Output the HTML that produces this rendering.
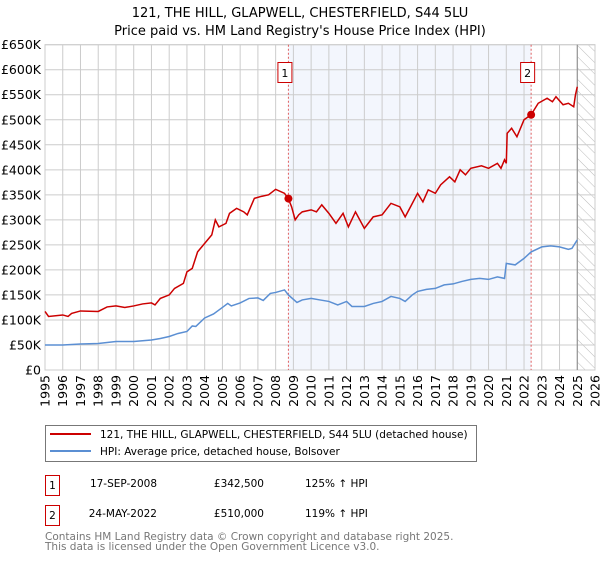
<!DOCTYPE html>
<html><head><meta charset="utf-8"><style>
body{margin:0;background:#fff;width:600px;height:560px;overflow:hidden;font-family:"DejaVu Sans","Liberation Sans",sans-serif}
svg text{font-family:"DejaVu Sans","Liberation Sans",sans-serif}
</style></head><body>
<svg id="c" width="600" height="560" viewBox="0 0 600 560">
<text x="300" y="17" text-anchor="middle" font-size="13" fill="#000">121, THE HILL, GLAPWELL, CHESTERFIELD, S44 5LU</text>
<text x="300" y="35" text-anchor="middle" font-size="13" fill="#000">Price paid vs. HM Land Registry's House Price Index (HPI)</text>
<g id="plot"></g>
<g>
<rect x="45.5" y="425.5" width="431" height="36" fill="#fff" stroke="#777"/>
<line x1="50" y1="434" x2="91" y2="434" stroke="#cc0000" stroke-width="2"/>
<text x="100" y="438" font-size="10.5">121, THE HILL, GLAPWELL, CHESTERFIELD, S44 5LU (detached house)</text>
<line x1="50" y1="451" x2="91" y2="451" stroke="#5b8fd3" stroke-width="2"/>
<text x="100" y="455" font-size="10.5">HPI: Average price, detached house, Bolsover</text>
</g>
<g font-size="10.5">
<rect x="45.5" y="475.5" width="14" height="20" fill="#fff" stroke="#cc0000"/>
<text x="52.5" y="489" text-anchor="middle">1</text>
<text x="157" y="487" text-anchor="end">17-SEP-2008</text>
<text x="264" y="487" text-anchor="end">£342,500</text>
<text x="305" y="487">125% ↑ HPI</text>
<rect x="45.5" y="505.5" width="14" height="20" fill="#fff" stroke="#cc0000"/>
<text x="52.5" y="519" text-anchor="middle">2</text>
<text x="157" y="517" text-anchor="end">24-MAY-2022</text>
<text x="264" y="517" text-anchor="end">£510,000</text>
<text x="305" y="517">119% ↑ HPI</text>
</g>
<text x="45" y="540" font-size="10.5" fill="#777">Contains HM Land Registry data © Crown copyright and database right 2025.</text>
<text x="45" y="550" font-size="10.5" fill="#777">This data is licensed under the Open Government Licence v3.0.</text>
</svg>
<script>
const yTicks=[0,50,100,150,200,250,300,350,400,450,500,550,600,650];
const yTickLabels=["£0","£50K","£100K","£150K","£200K","£250K","£300K","£350K","£400K","£450K","£500K","£550K","£600K","£650K"];
const xYears=[1995,1996,1997,1998,1999,2000,2001,2002,2003,2004,2005,2006,2007,2008,2009,2010,2011,2012,2013,2014,2015,2016,2017,2018,2019,2020,2021,2022,2023,2024,2025,2026];
const hpiYears=[1995,1996,1997,1998,1999,2000,2001,2001.5,2002,2002.5,2003,2003.3,2003.5,2004,2004.5,2005,2005.3,2005.5,2006,2006.5,2007,2007.3,2007.7,2008,2008.5,2008.72,2009.2,2009.5,2010,2010.5,2011,2011.5,2012,2012.3,2013,2013.5,2014,2014.5,2015,2015.3,2015.7,2016,2016.5,2017,2017.5,2018,2018.5,2019,2019.5,2020,2020.5,2020.9,2021,2021.5,2022,2022.4,2023,2023.5,2024,2024.5,2024.7,2025];
const hpiValues=[50,50,52,53,57,57,60,63,67,73,77,88,87,104,112,125,133,128,134,143,144,139,153,155,160,150,135,140,143,140,137,130,137,127,127,133,137,147,143,137,150,157,161,163,170,172,177,181,183,181,186,183,213,210,223,236,246,248,246,241,243,260];
const propYears=[1995,1995.2,1996,1996.3,1996.5,1997,1998,1998.5,1999,1999.5,2000,2000.5,2001,2001.2,2001.5,2002,2002.3,2002.8,2003,2003.3,2003.6,2004,2004.4,2004.6,2004.8,2005.2,2005.4,2005.8,2006.2,2006.4,2006.8,2007.2,2007.6,2008,2008.5,2008.72,2008.9,2009.1,2009.3,2009.5,2010,2010.3,2010.6,2011,2011.4,2011.8,2012.1,2012.5,2013,2013.5,2014,2014.5,2015,2015.3,2015.6,2016,2016.3,2016.6,2017,2017.3,2017.8,2018.1,2018.4,2018.7,2019,2019.6,2020,2020.5,2020.7,2020.9,2021,2021.05,2021.3,2021.6,2022,2022.4,2022.8,2023.3,2023.6,2023.8,2024.2,2024.5,2024.8,2024.9,2025];
const propValues=[117,107,110,107,113,118,117,126,128,125,128,132,134,130,143,150,163,173,196,203,236,253,270,300,286,293,313,323,316,310,343,347,350,361,353,342,326,300,310,316,320,316,330,313,293,313,286,316,283,306,310,333,326,306,326,353,336,360,353,370,386,376,400,390,403,408,403,413,403,420,413,473,483,466,500,510,533,543,536,546,530,533,526,550,566];
const saleYears=[2008.72,2022.4];
const saleValues=[342.5,510];
const saleLabels=["1","2"];

const X0=45,X1=595,Y0=370,Y1=44.7;
const xs=y=>X0+(y-1995)/(2026-1995)*(X1-X0);
const ys=v=>Y0-v/650*(Y0-Y1);
const NS="http://www.w3.org/2000/svg";
const g=document.getElementById('plot');
function el(t,a,p){const e=document.createElementNS(NS,t);for(const k in a)e.setAttribute(k,a[k]);(p||g).appendChild(e);return e;}

const sh=el('rect',{x:xs(saleYears[0]),y:Y1,width:xs(saleYears[1])-xs(saleYears[0]),height:Y0-Y1,fill:'#f3f6fd'});


const defs=el('defs',{});
const pat=el('pattern',{id:'h',width:8,height:8,patternUnits:'userSpaceOnUse',patternTransform:'rotate(-45)'},defs);
el('line',{x1:0,y1:0,x2:0,y2:8,stroke:'#bbb','stroke-width':1},pat);
const ht=el('rect',{x:xs(2025),y:Y1,width:X1-xs(2025),height:Y0-Y1,fill:'url(#h)'});


yTicks.forEach((t,i)=>{
  el('line',{x1:X0,x2:X1,y1:ys(t),y2:ys(t),stroke:'#ccc','stroke-width':1});
  const tx=el('text',{x:X0-4,y:ys(t)+4.5,'text-anchor':'end','font-size':12.5,fill:'#000'});
  tx.textContent=yTickLabels[i];
  
  
});
xYears.forEach(yr=>{
  el('line',{x1:xs(yr),x2:xs(yr),y1:Y1,y2:Y0,stroke:'#ccc','stroke-width':1});
  const tx=el('text',{x:0,y:0,'text-anchor':'end','font-size':12.5,transform:`translate(${xs(yr)+4.5},${Y0+5}) rotate(-90)`});
  tx.textContent=yr;
  
  
});
el('rect',{x:X0,y:Y1,width:X1-X0,height:Y0-Y1,fill:'none',stroke:'#ccc'});
el('line',{x1:xs(2025),x2:xs(2025),y1:Y1,y2:Y0,stroke:'#888','stroke-width':1});
saleYears.forEach((s,i)=>{
  el('line',{x1:xs(s),x2:xs(s),y1:Y1,y2:Y0,stroke:'#e06060','stroke-width':1,'stroke-dasharray':'2,2'});
});
const hp=el('polyline',{points:hpiYears.map((y,i)=>xs(y)+','+ys(hpiValues[i])).join(' '),fill:'none',stroke:'#5b8fd3','stroke-width':1.5});


const pp=el('polyline',{points:propYears.map((y,i)=>xs(y)+','+ys(propValues[i])).join(' '),fill:'none',stroke:'#cc0000','stroke-width':1.5});


saleYears.forEach((s,i)=>{
  const c=el('circle',{cx:xs(s),cy:ys(saleValues[i]),r:4,fill:'#cc0000'});
  
  
  const b=el('rect',{x:xs(s)-10.5,y:62.5,width:14,height:20,fill:'#fff',stroke:'#cc0000'});
  
  
  const t=el('text',{x:xs(s)-3.5,y:77,'text-anchor':'middle','font-size':11});
  t.textContent=saleLabels[i];
  
  
});
</script>
</body></html>
